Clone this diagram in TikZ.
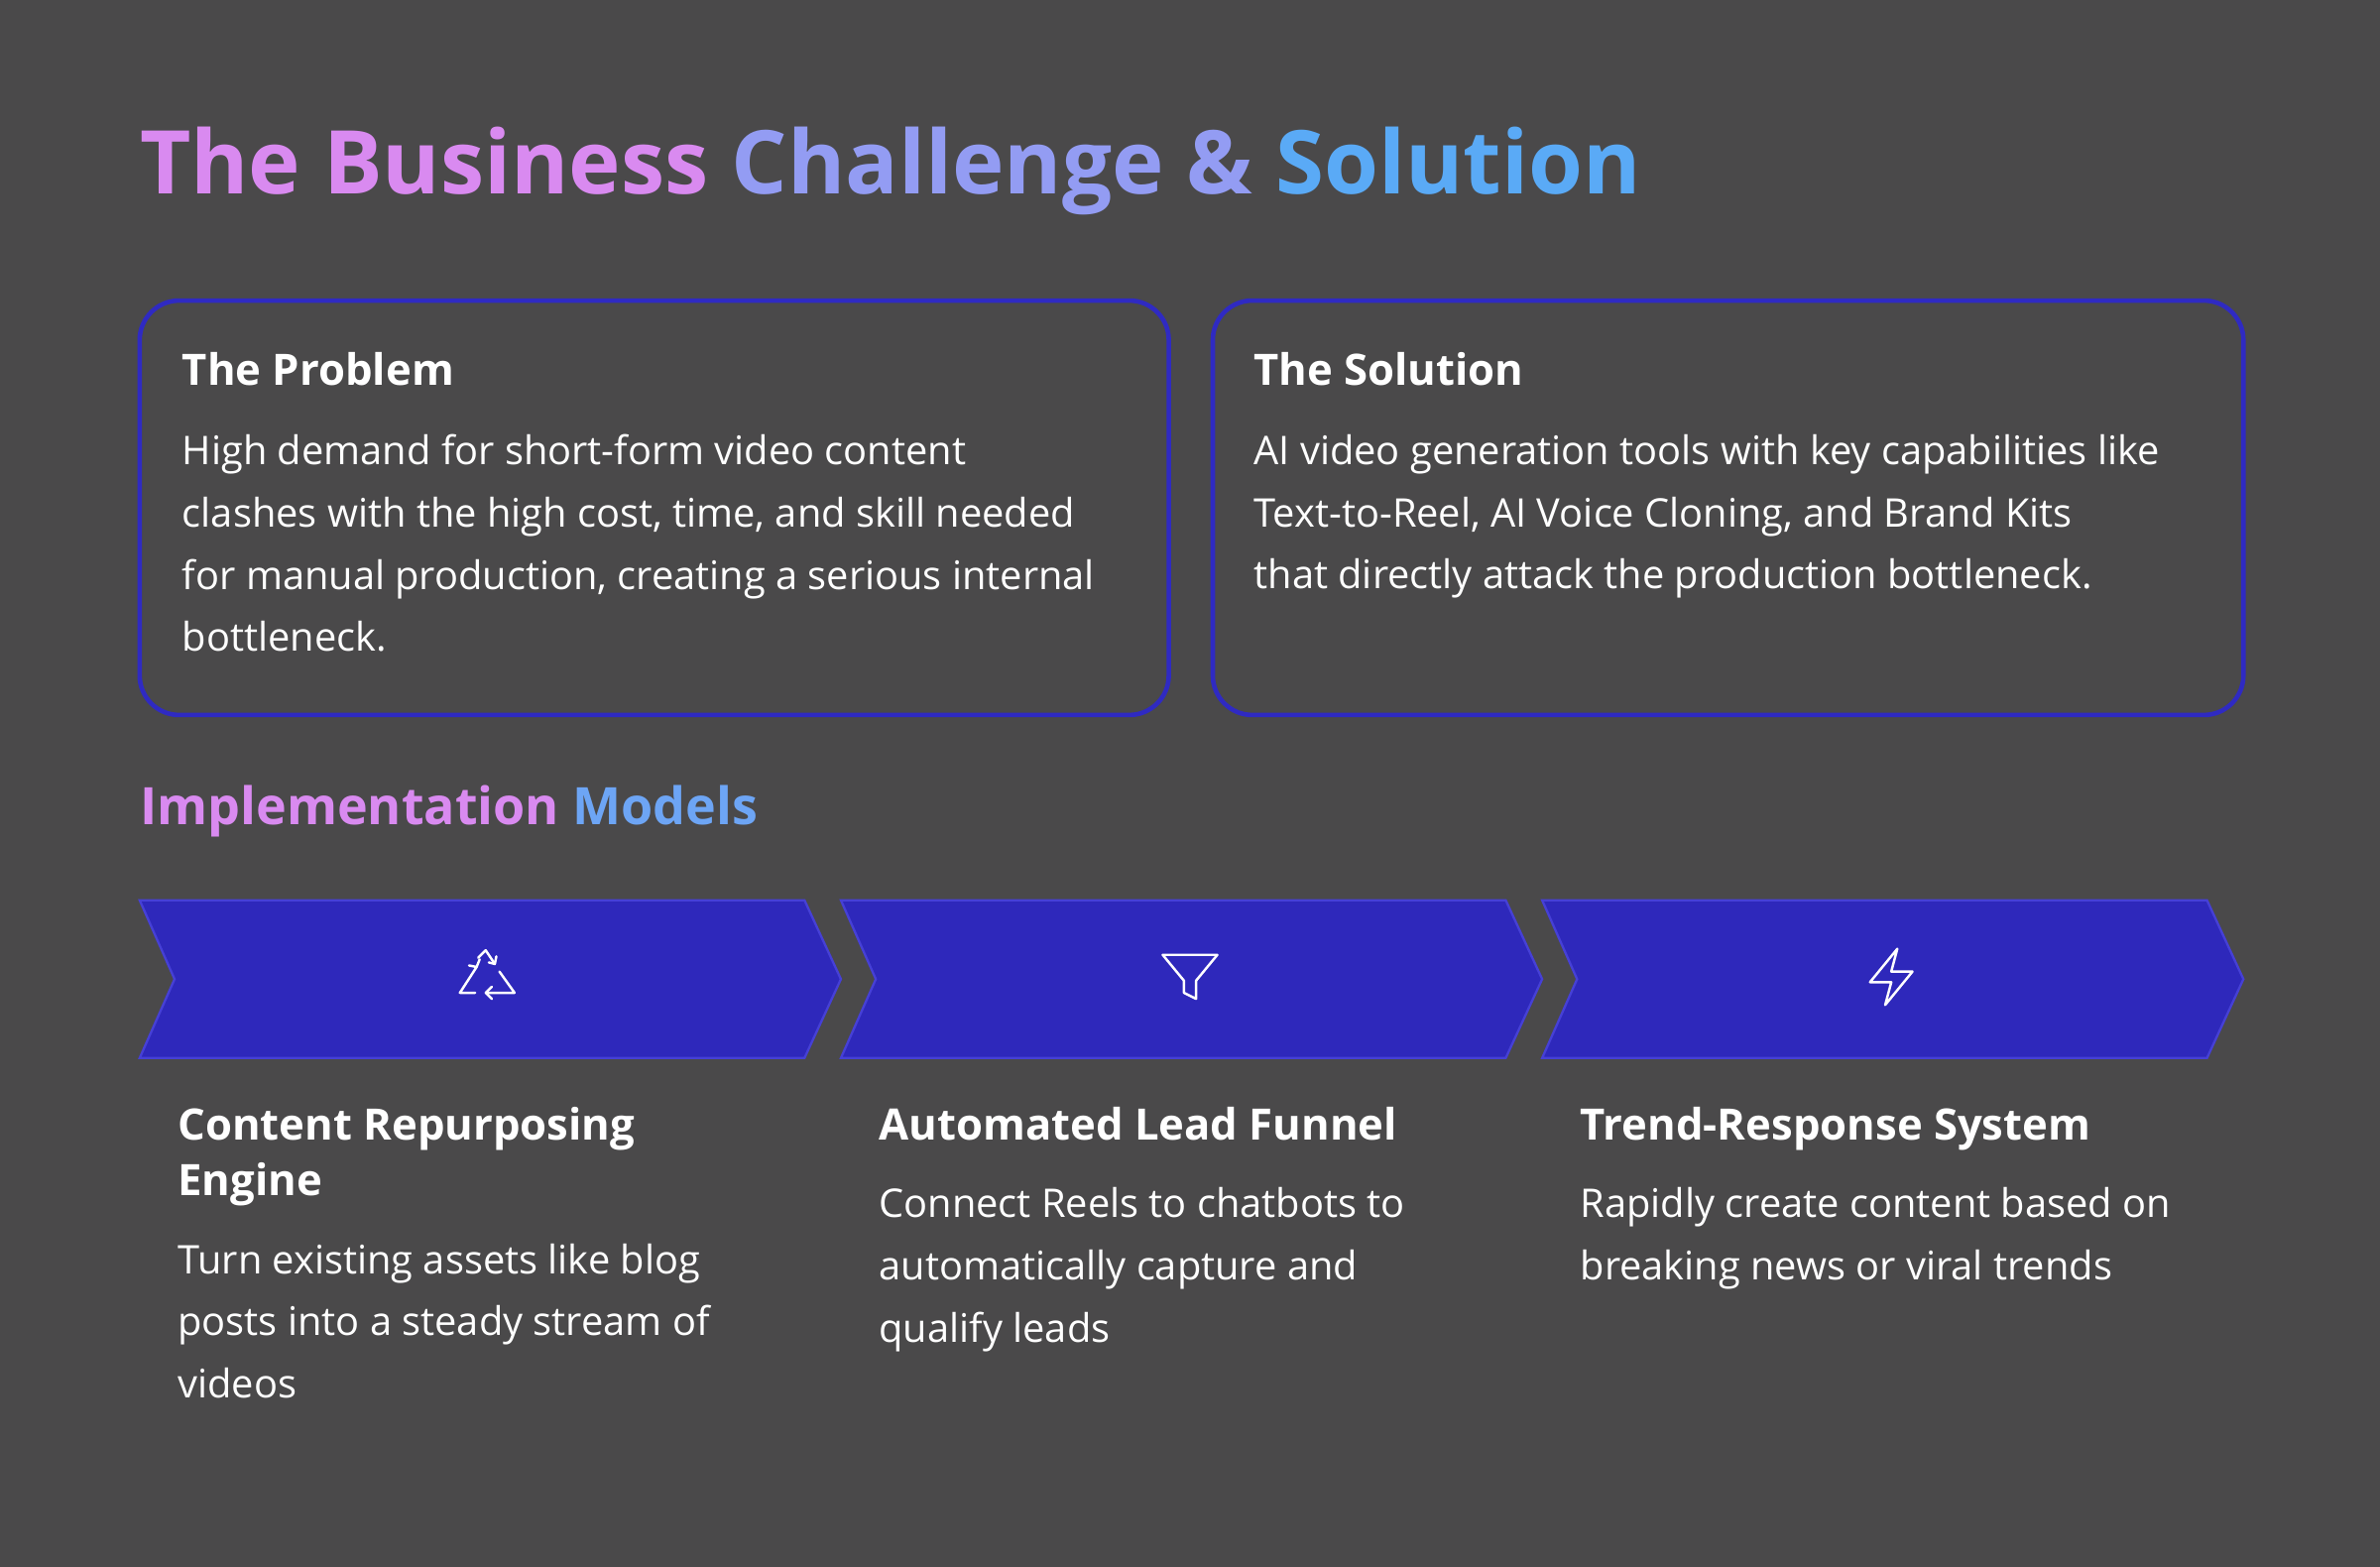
\documentclass[tikz,border=0pt]{standalone}
\usepackage{fontspec}
\setmainfont{Open Sans}
\definecolor{bg}{HTML}{4A494A}
\definecolor{bord}{HTML}{2F2AC2}
\definecolor{chev}{HTML}{2E28BB}
\definecolor{chevb}{HTML}{4640D6}
\definecolor{pinkt}{HTML}{D98AF0}
\definecolor{bluet}{HTML}{5AAAF6}
\begin{document}
\begin{tikzpicture}[x=1pt,y=-1pt,
  card/.style={draw=bord,line width=3pt,rounded corners=26pt},
  chevr/.style={fill=chev,draw=chevb,line width=1.5pt},
  icon/.style={draw=white,line width=1.6pt,line cap=round,line join=round},
  head/.style={anchor=north west,text=white,font=\fontsize{28.5}{37}\selectfont\bfseries,align=left,inner sep=0},
  body/.style={anchor=north west,text=white,font=\fontsize{26}{41}\selectfont,align=left,inner sep=0}]
\fill[bg] (0,0) rectangle (1568,1032);
\useasboundingbox (0,0) rectangle (1568,1032);
% title
\node[anchor=base west,inner sep=0,font=\fontsize{58}{70}\selectfont\bfseries] (title) at (92,128)
 {\textcolor{pinkt}{The Business} \textcolor{pinkt!45!bluet}{Challenge \&} \textcolor{bluet}{Solution}};
% cards
\draw[card] (92,198) rectangle (770,471);
\draw[card] (799,198) rectangle (1478,471);
\node[head] (ph) at (120,232) {The Problem};
\node[body] (pb) at (120,286) {High demand for short-form video content\\clashes with the high cost, time, and skill needed\\for manual production, creating a serious internal\\bottleneck.};
\node[head] (sh) at (826,232) {The Solution};
\node[body] (sb) at (826,286) {AI video generation tools with key capabilities like\\Text-to-Reel, AI Voice Cloning, and Brand Kits\\that directly attack the production bottleneck.};
% subtitle
\node[anchor=base west,inner sep=0,font=\fontsize{34}{40}\selectfont\bfseries] (sub) at (92,543)
 {\textcolor{pinkt}{Implementation} \textcolor{bluet!85!pinkt}{Models}};
% chevrons
\foreach \x in {92,554,1016}{
  \draw[chevr] (\x,593) -- (\x+438,593) -- (\x+462,645) -- (\x+438,697) -- (\x,697) -- (\x+23,645) -- cycle;
}
% recycle icon (approx)
\begin{scope}[shift={(321,643)}]
 \draw[icon] (-6,-12) -- (-1,-17) -- (5,-8);
 \draw[icon] (1,-9) -- (5,-8) -- (6,-13);
 \draw[icon] (-7,-6) -- (-18,11) -- (-8,11);
 \draw[icon] (-12,-7) -- (-7,-6) -- (-5,-11);
 \draw[icon] (8,-3) -- (18,11) -- (-1,11);
 \draw[icon] (3,7) -- (-1,11) -- (3,15);
\end{scope}
% funnel
\begin{scope}[shift={(784,643)}]
 \draw[icon] (-18,-14) -- (18,-14) -- (4,3) -- (4,15) -- (-4,11) -- (-4,3) -- cycle;
\end{scope}
% lightning
\begin{scope}[shift={(1246,643)}]
 \draw[icon] (4,-18) -- (-14,4) -- (0,4) -- (-4,19) -- (14,-3) -- (0,-3) -- cycle;
\end{scope}
% bottom texts
\node[head] (h1) at (117,729) {Content Repurposing\\Engine};
\node[body] (b1) at (117,819) {Turn existing assets like blog\\posts into a steady stream of\\videos};
\node[head] (h2) at (579,729) {Automated Lead Funnel};
\node[body] (b2) at (579,782) {Connect Reels to chatbots to\\automatically capture and\\qualify leads};
\node[head] (h3) at (1041,729) {Trend-Response System};
\node[body] (b3) at (1041,782) {Rapidly create content based on\\breaking news or viral trends};
\end{tikzpicture}
\end{document}
